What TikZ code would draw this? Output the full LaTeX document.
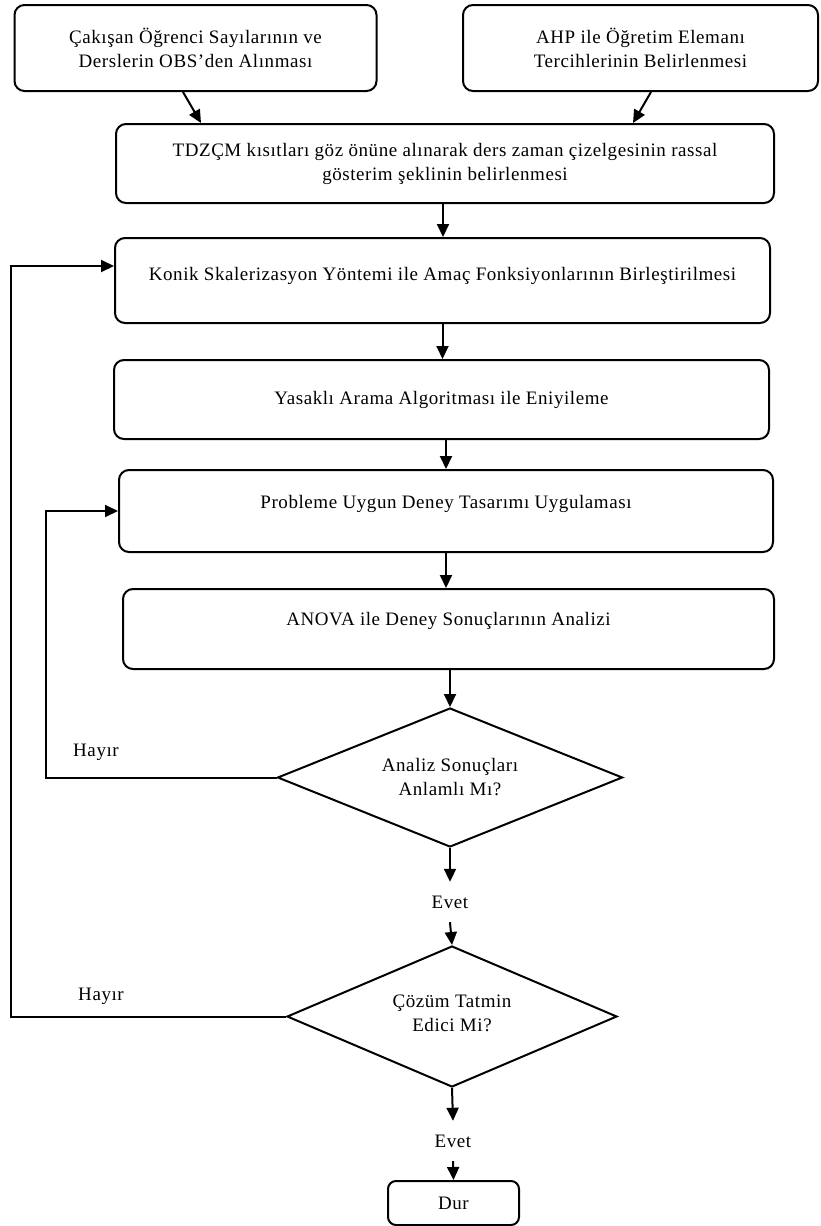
\documentclass[tikz,border=0pt]{standalone}
\usepackage{fontspec}
\setmainfont{Liberation Serif}[LetterSpace=3]
\usetikzlibrary{arrows.meta,shapes.geometric}
\begin{document}
\begin{tikzpicture}[x=1pt,y=-1pt,
  every node/.style={font=\fontsize{19}{24}\selectfont},
  box/.style={draw, line width=2pt, rounded corners=10pt, align=center, inner sep=0pt},
  decision/.style={draw, diamond, line width=2pt, aspect=2.5, align=center, inner sep=0pt},
  plain/.style={inner sep=0pt, align=center},
  arr/.style={line width=2pt, -{Triangle[length=13pt,width=12pt]}},
  lnk/.style={line width=2pt}]
\useasboundingbox (0,0) rectangle (820,1226);
\fill[white] (0,0) rectangle (820,1226);

\node[box, minimum width=362, minimum height=86] (b1) at (195.5,48)
  {Çakışan Öğrenci Sayılarının ve\\Derslerin OBS’den Alınması};
\node[box, minimum width=355, minimum height=86] (b2) at (640.5,48)
  {AHP ile Öğretim Elemanı\\Tercihlerinin Belirlenmesi};
\node[box, minimum width=658, minimum height=79] (b3) at (445,163.5)
  {TDZÇM kısıtları göz önüne alınarak ders zaman çizelgesinin rassal\\gösterim şeklinin belirlenmesi};
\node[box, minimum width=655, minimum height=85] (b4) at (442.5,280.5)
  {\raisebox{5pt}[\height][\depth]{Konik Skalerizasyon Yöntemi ile Amaç Fonksiyonlarının Birleştirilmesi}};
\node[box, minimum width=655, minimum height=79] (b5) at (441.5,399.5)
  {Yasaklı Arama Algoritması ile Eniyileme};
\node[box, minimum width=654, minimum height=82] (b6) at (446,511)
  {\raisebox{7pt}[\height][\depth]{Probleme Uygun Deney Tasarımı Uygulaması}};
\node[box, minimum width=651, minimum height=80] (b7) at (448.5,629)
  {\raisebox{8pt}[\height][\depth]{ANOVA ile Deney Sonuçlarının Analizi}};
\node[decision, minimum width=345, minimum height=139] (d1) at (450,777.5)
  {Analiz Sonuçları\\Anlamlı Mı?};
\node[plain, minimum height=40] (e1) at (450,902) {Evet};
\node[decision, minimum width=330, minimum height=141] (d2) at (452,1016.5)
  {\raisebox{3pt}[\height][\depth]{Çözüm Tatmin}\\\raisebox{3pt}[\height][\depth]{Edici Mi?}};
\node[plain, minimum height=40] (e2) at (453,1141) {Evet};
\node[box, rounded corners=8pt, minimum width=131, minimum height=44] (dur) at (453.5,1203) {Dur};
\node[plain] (h1) at (96,752) {Hayır};
\node[plain] (h2) at (101,996) {Hayır};

\coordinate (k1) at (46,0);
\coordinate (k2) at (11,0);

\draw[arr] ([xshift=-12.5pt]b1.south) -- ([xshift=-244pt]b3.north);
\draw[arr] ([xshift=10.5pt]b2.south) -- ([xshift=188pt]b3.north);
\draw[arr] ([xshift=-2pt]b3.south) -- ([xshift=-2pt]b3.south |- b4.north);
\draw[arr] (b4.south) -- (b4.south |- b5.north);
\draw[arr] (b6.north |- b5.south) -- (b6.north);
\draw[arr] (b6.south) -- (b6.south |- b7.north);
\draw[arr] (d1.north |- b7.south) -- (d1.north);
\draw[arr] (d1.south) -- (e1.north);
\draw[arr] (e1.south) -- (d2.north);
\draw[arr] (d2.south) -- (e2.north);
\draw[arr] (e2.south) -- (dur.north);
\draw[arr] (d1.west) -- (d1.west -| k1) |- (b6.west);
\draw[arr] (d2.west) -- (d2.west -| k2) |- ([yshift=14.5pt]b4.west);
\end{tikzpicture}
\end{document}
